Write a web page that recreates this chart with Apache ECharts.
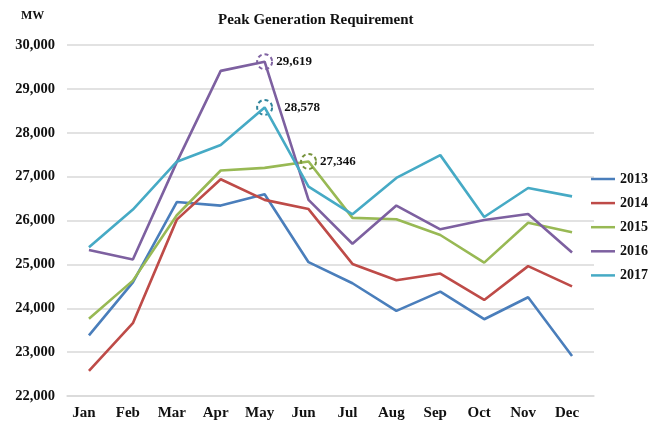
<!DOCTYPE html>
<html><head><meta charset="utf-8">
<script src="https://cdn.jsdelivr.net/npm/echarts@6/dist/echarts.min.js"></script>
<style>html,body{margin:0;padding:0;background:#fff}#c{width:648px;height:423px}</style>
</head><body><div id="c"></div>
<script>
var months = ['Jan','Feb','Mar','Apr','May','Jun','Jul','Aug','Sep','Oct','Nov','Dec'];
var y2013 = [23380,24590,26420,26340,26600,25050,24570,23940,24380,23750,24250,22910];
var y2014 = [22570,23660,26020,26940,26470,26260,25010,24640,24790,24190,24960,24500];
var y2015 = [23760,24630,26120,27140,27200,27346,26060,26030,25670,25040,25950,25730];
var y2016 = [25330,25110,27330,29410,29619,26470,25470,26340,25800,26010,26150,25270];
var y2017 = [25390,26250,27340,27720,28578,26770,26140,26970,27490,26080,26740,26550];
var yearNames = ['2013','2014','2015','2016','2017'];
var colors = ['#4a7ebb','#be4b48','#98b954','#7d60a0','#46aac5'];
var peaks = [null,null,{m:'Jun',v:27346,c:'#77933c',d:3},{m:'May',v:29619,c:'#8064a2',d:3},{m:'May',v:28578,c:'#31859c',d:11}];
var fontF = '"Liberation Serif","Times New Roman",serif';
var data = [y2013,y2014,y2015,y2016,y2017];
var series = data.map(function(d,i){
  var s = {name:yearNames[i],type:'line',data:d,symbol:'none',
    lineStyle:{width:2.6,color:colors[i]},itemStyle:{color:colors[i]},z:2+i};
  var p = peaks[i];
  if(p){
    s.markPoint = {symbol:'circle',symbolSize:15,silent:true,
      itemStyle:{color:'rgba(255,255,255,0)',borderColor:p.c,borderWidth:2,borderType:[4,3]},
      label:{show:true,position:'right',distance:p.d,color:'#111',fontFamily:fontF,fontWeight:'bold',fontSize:13,
        formatter:function(x){return x.value.toLocaleString('en-US');}},
      data:[{coord:[p.m,p.v],value:p.v}]};
  }
  return s;
});
var chart = echarts.init(document.getElementById('c'));
chart.setOption({
  animation:false,
  title:{text:'Peak Generation Requirement',left:213,top:8,
    textStyle:{fontFamily:fontF,fontWeight:'bold',fontSize:15,color:'#111'}},
  graphic:[{type:'text',left:21,top:10,style:{text:'MW',fontFamily:fontF,fontWeight:'bold',fontSize:12,fill:'#111'}}],
  grid:{left:67,right:54,top:45,bottom:27,containLabel:false},
  legend:{orient:'vertical',left:591,top:172,padding:0,icon:'rect',itemWidth:24,itemHeight:2.5,itemGap:10.1,
    data:yearNames,textStyle:{fontFamily:fontF,fontWeight:'bold',fontSize:14,lineHeight:14,color:'#111'}},
  xAxis:{type:'category',data:months,boundaryGap:true,
    axisLine:{show:true,lineStyle:{color:'#d9d9d9',width:1.5}},axisTick:{show:false},
    axisLabel:{fontFamily:fontF,fontWeight:'bold',fontSize:15,color:'#111',margin:10,padding:[0,10,0,0]}},
  yAxis:{type:'value',min:22000,max:30000,interval:1000,
    axisLine:{show:false},axisTick:{show:false},
    splitLine:{lineStyle:{color:'#d9d9d9',width:1.5}},
    axisLabel:{fontFamily:fontF,fontWeight:'bold',fontSize:14.5,color:'#111',margin:12,
      formatter:function(v){return v.toLocaleString('en-US');}}},
  series:series
});
</script></body></html>
